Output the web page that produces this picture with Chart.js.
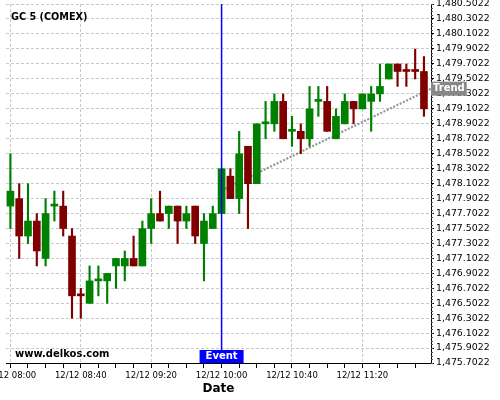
<!DOCTYPE html>
<html>
<head>
<meta charset="utf-8">
<script src="https://cdn.jsdelivr.net/npm/chart.js@4/dist/chart.umd.min.js"></script>
<style>
  html, body { margin: 0; padding: 0; background: #fff; }
  canvas { display: block; }
</style>
</head>
<body>
<canvas id="chart" width="500" height="400"></canvas>
<script>
// 5 minute candles, 12/12
const times = ['08:00','08:05','08:10','08:15','08:20','08:25','08:30','08:35','08:40','08:45',
               '08:50','08:55','09:00','09:05','09:10','09:15','09:20','09:25','09:30','09:35',
               '09:40','09:45','09:50','09:55','10:00','10:05','10:10','10:15','10:20','10:25',
               '10:30','10:35','10:40','10:45','10:50','10:55','11:00','11:05','11:10','11:15',
               '11:20','11:25','11:30','11:35','11:40','11:45','11:50','11:55'];
const open = [1477.8,1477.9,1477.4,1477.6,1477.1,1477.8,1477.8,1477.4,1476.62,1476.5,
              1476.8,1476.8,1477.0,1477.0,1477.1,1477.0,1477.5,1477.7,1477.7,1477.8,
              1477.6,1477.8,1477.3,1477.5,1477.7,1478.2,1477.9,1478.6,1478.1,1478.9,
              1478.9,1479.2,1478.8,1478.8,1478.7,1479.2,1479.2,1478.7,1478.9,1479.2,
              1479.1,1479.2,1479.3,1479.5,1479.7,1479.62,1479.62,1479.6];
const high = [1478.5,1478.1,1478.1,1477.7,1477.9,1478.0,1478.0,1477.5,1476.7,1477.0,
              1477.0,1476.9,1477.1,1477.2,1477.4,1477.6,1477.9,1478.0,1477.8,1477.8,
              1477.8,1477.8,1477.7,1477.8,1478.3,1478.3,1478.8,1478.6,1478.9,1479.2,
              1479.3,1479.3,1479.0,1478.9,1479.4,1479.4,1479.4,1479.1,1479.3,1479.2,
              1479.3,1479.4,1479.7,1479.7,1479.7,1479.7,1479.9,1479.8];
const low = [1477.5,1477.1,1477.3,1477.0,1477.0,1477.6,1477.4,1476.3,1476.3,1476.5,
             1476.6,1476.5,1476.7,1476.8,1477.0,1477.0,1477.3,1477.6,1477.5,1477.3,
             1477.5,1477.3,1476.8,1477.5,1477.7,1477.9,1477.7,1477.5,1478.1,1478.7,
             1478.8,1478.7,1478.6,1478.5,1478.6,1479.0,1478.8,1478.7,1478.9,1478.9,
             1479.1,1478.8,1479.2,1479.5,1479.4,1479.4,1479.5,1479.0];
const close = [1478.0,1477.4,1477.6,1477.2,1477.7,1477.82,1477.5,1476.6,1476.6,1476.8,
               1476.82,1476.9,1477.1,1477.1,1477.0,1477.5,1477.7,1477.6,1477.8,1477.6,
               1477.7,1477.4,1477.6,1477.7,1478.3,1477.9,1478.5,1478.1,1478.9,1478.92,
               1479.2,1478.7,1478.82,1478.7,1479.1,1479.22,1478.8,1479.0,1479.2,1479.1,
               1479.3,1479.3,1479.4,1479.7,1479.6,1479.6,1479.6,1479.1];

// trend line end points
const trendTimes = ['10:00', '11:59'];
const trendValues = [1478.01, 1479.37];

const eventTime = '10:00';

// axis ticks
const xTickTimes = ['08:00','08:10','08:20','08:30','08:40','08:50','09:00','09:10','09:20','09:30',
                    '09:40','09:50','10:00','10:10','10:20','10:30','10:40','10:50','11:00','11:10',
                    '11:20','11:30','11:40','11:50'];
const xLabelTimes = ['08:00','08:40','09:20','10:00','10:40','11:20'];
const yTicks = [1475.7022,1475.9022,1476.1022,1476.3022,1476.5022,1476.7022,1476.9022,1477.1022,
                1477.3022,1477.5022,1477.7022,1477.9022,1478.1022,1478.3022,1478.5022,1478.7022,
                1478.9022,1479.1022,1479.3022,1479.5022,1479.7022,1479.9022,1480.1022,1480.3022,1480.5022];

const GREEN = '#008000';
const RED = '#800000';

function toMin(s) {
    const [h, m] = s.split(':').map(Number);
    return (h - 8) * 60 + m;
}
function toTime(min) {
    const h = 8 + Math.floor(min / 60), m = min % 60;
    return String(h).padStart(2, '0') + ':' + String(m).padStart(2, '0');
}

const candleColors = times.map((t, i) => close[i] >= open[i] ? GREEN : RED);

Chart.defaults.font.family = "'DejaVu Sans', sans-serif";
Chart.defaults.color = '#000';

const overlay = {
    id: 'overlay',
    afterDraw(chart) {
        const { ctx, chartArea } = chart;
        const xs = chart.scales.x, ys = chart.scales.y;
        ctx.save();

        // minor ticks on the price axis
        ctx.strokeStyle = '#555';
        ctx.lineWidth = 1;
        for (let v = yTicks[0]; v < yTicks[yTicks.length - 1]; v += 0.05) {
            const py = Math.round(ys.getPixelForValue(v)) + 0.5;
            ctx.beginPath();
            ctx.moveTo(chartArea.right, py);
            ctx.lineTo(chartArea.right + 2, py);
            ctx.stroke();
        }

        // event line
        const ex = xs.getPixelForValue(toMin(eventTime));
        ctx.strokeStyle = '#0000ff';
        ctx.lineWidth = 1.5;
        ctx.beginPath();
        ctx.moveTo(ex, chartArea.top);
        ctx.lineTo(ex, chartArea.bottom);
        ctx.stroke();

        // title + watermark
        ctx.fillStyle = '#000';
        ctx.textAlign = 'left';
        ctx.textBaseline = 'alphabetic';
        ctx.font = "bold 9.7px 'DejaVu Sans'";
        ctx.fillText('GC 5 (COMEX)', 11, 19.5);
        ctx.font = "bold 10px 'DejaVu Sans'";
        ctx.fillText('www.delkos.com', 15, 357);

        // event label
        ctx.font = "bold 10px 'DejaVu Sans'";
        const ew = ctx.measureText('Event').width + 12;
        ctx.fillStyle = '#0000ff';
        ctx.fillRect(ex - ew / 2, chartArea.bottom - 13, ew, 13);
        ctx.fillStyle = '#fff';
        ctx.textAlign = 'center';
        ctx.textBaseline = 'middle';
        ctx.fillText('Event', ex, chartArea.bottom - 6.5);

        // trend label
        const ty = ys.getPixelForValue(trendValues[1]);
        const tw = ctx.measureText('Trend').width + 4;
        ctx.fillStyle = '#888';
        ctx.fillRect(chartArea.right, ty - 7, tw, 14);
        ctx.fillStyle = '#fff';
        ctx.fillText('Trend', chartArea.right + tw / 2, ty);

        ctx.restore();
    }
};

new Chart(document.getElementById('chart'), {
    type: 'bar',
    data: {
        datasets: [{
            label: 'body',
            data: times.map((t, i) => ({ x: toMin(t), y: [open[i], close[i]] })),
            backgroundColor: candleColors,
            barThickness: 7,
            minBarLength: 2,
            grouped: false,
            order: 0
        }, {
            label: 'wick',
            data: times.map((t, i) => ({ x: toMin(t), y: [low[i], high[i]] })),
            backgroundColor: candleColors,
            barThickness: 1.5,
            grouped: false,
            order: 1
        }, {
            type: 'line',
            label: 'trend',
            data: trendTimes.map((t, i) => ({ x: toMin(t), y: trendValues[i] })),
            borderColor: 'rgba(130,130,130,0.85)',
            borderWidth: 2.2,
            borderDash: [2, 1.6],
            pointRadius: 0,
            fill: false,
            order: 2
        }]
    },
    options: {
        responsive: false,
        animation: false,
        layout: { padding: { left: 6, top: 4, right: 0, bottom: 0 } },
        plugins: {
            legend: { display: false },
            tooltip: { enabled: false }
        },
        scales: {
            x: {
                type: 'linear',
                min: -2.5,
                max: 239,
                bounds: 'data',
                offset: false,
                afterBuildTicks: (axis) => { axis.ticks = xTickTimes.map(t => ({ value: toMin(t) })); },
                afterFit: (axis) => { axis.height = 37; axis.paddingLeft = 0; axis.paddingRight = 0; },
                ticks: {
                    autoSkip: false,
                    maxRotation: 0,
                    minRotation: 0,
                    padding: 3,
                    font: { size: 8.5 },
                    color: '#000',
                    callback: (v) => xLabelTimes.includes(toTime(v)) ? '12/12 ' + toTime(v) : ''
                },
                grid: {
                    offset: false,
                    color: (c) => (c.tick && xLabelTimes.includes(toTime(c.tick.value))) ? '#c8c8c8' : 'rgba(0,0,0,0)',
                    lineWidth: 1,
                    tickLength: 5,
                    tickColor: '#000'
                },
                border: { display: true, color: '#000', width: 1, dash: [3, 2] },
                title: {
                    display: true,
                    text: 'Date',
                    font: { size: 12, weight: 'bold' },
                    color: '#000',
                    padding: { top: 0, bottom: 4 }
                }
            },
            y: {
                type: 'linear',
                position: 'right',
                min: yTicks[0],
                max: yTicks[yTicks.length - 1],
                bounds: 'data',
                beginAtZero: false,
                afterBuildTicks: (axis) => { axis.ticks = yTicks.map(v => ({ value: v })); },
                afterFit: (axis) => { axis.width = 69; axis.paddingTop = 0; axis.paddingBottom = 0; },
                ticks: {
                    padding: 2,
                    font: { size: 9.4 },
                    color: '#000',
                    callback: (v) => v.toLocaleString('en-US', { minimumFractionDigits: 4, maximumFractionDigits: 4 })
                },
                grid: {
                    color: '#c8c8c8',
                    lineWidth: 1,
                    tickLength: 3,
                    tickColor: '#000'
                },
                border: { display: true, color: '#000', width: 1, dash: [3, 2] }
            }
        }
    },
    plugins: [overlay]
});
</script>
</body>
</html>
